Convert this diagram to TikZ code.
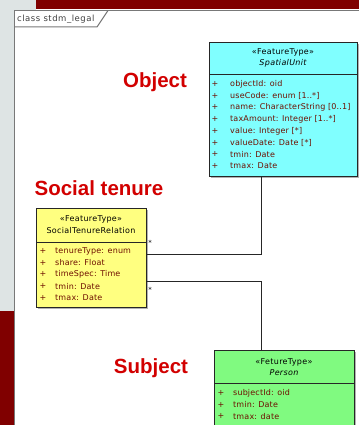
\documentclass[tikz,border=0pt]{standalone}
\usepackage{fontspec}
\setmainfont{DejaVu Sans}
\newfontfamily\titlefont{Liberation Sans}
\usetikzlibrary{shadows}
\definecolor{bgred}{RGB}{128,0,0}
\definecolor{lightbg}{RGB}{222,228,228}
\definecolor{framegray}{RGB}{120,120,120}
\definecolor{titlered}{RGB}{210,0,0}
\definecolor{attrred}{RGB}{110,15,0}
\definecolor{sucyan}{RGB}{128,255,255}
\definecolor{stryellow}{RGB}{255,255,128}
\definecolor{pergreen}{RGB}{128,250,128}
\begin{document}
\begin{tikzpicture}[x=1pt,y=-1pt,
  umlbox/.style={draw=black!85, line width=0.8pt, anchor=north west, inner sep=0pt,
    drop shadow={shadow xshift=2pt, shadow yshift=-2pt, fill=black!30, opacity=1}},
  hdr/.style={font=\fontsize{8}{9}\selectfont\addfontfeature{LetterSpace=4}, text=black, inner sep=0pt},
  attr/.style={font=\fontsize{8}{9}\selectfont\addfontfeature{LetterSpace=2}, text=attrred, anchor=west, inner sep=0pt},
  plussign/.style={font=\fontsize{8}{9}\selectfont, text=attrred, inner sep=0pt},
  bigtitle/.style={font=\titlefont\bfseries\fontsize{20.5}{24}\selectfont, text=titlered, inner sep=0pt},
  conn/.style={draw=black!85, line width=0.8pt},
  mult/.style={font=\fontsize{7}{8}\selectfont, inner sep=0pt},
  divider/.style={draw=black!85, line width=0.8pt}]
\useasboundingbox (0,0) rectangle (359,425);
% background
\fill[white] (0,0) rectangle (359,425);
\fill[lightbg] (0,0) rectangle (36,10);
\fill[lightbg] (0,0) rectangle (14,311);
\fill[bgred] (0,311) rectangle (14,425);
\fill[bgred] (36,0) rectangle (359,9);
% frame
\draw[framegray, line width=1pt] (359,10.5) -- (14.5,10.5) -- (14.5,425);
\draw[framegray, line width=1pt] (14.5,27) -- (97,27) -- (108,10.5);
\node[font=\fontsize{8.5}{10}\selectfont\addfontfeature{LetterSpace=6}, text=black!75, anchor=west, inner sep=0pt] (tab) at (17,19) {class stdm\_legal};
% titles
\node[bigtitle] (tobj) at (155,82) {Object};
\node[bigtitle] (tsoc) at (99,188) {Social tenure};
\node[bigtitle] (tsub) at (151,368) {Subject};
% SpatialUnit
\node[umlbox, fill=sucyan, minimum width=148pt, minimum height=134pt] (su) at (209,42) {};
\draw[divider] (su.west |- 0,74) -- (su.east |- 0,74);
\node[hdr] (suh1) at (283,52) {«FeatureType»};
\node[hdr, font=\fontsize{8}{9}\selectfont\itshape\addfontfeature{LetterSpace=4}] (suh2) at (283,63) {SpatialUnit};
\foreach \t [count=\i from 0] in {objectId: oid, useCode: enum [1..*], name: CharacterString [0..1], taxAmount: Integer [1..*], value: Integer [*], valueDate: Date [*], tmin: Date, tmax: Date}{
  \node[plussign] (sup\i) at (215,84+11.7*\i) {+};
  \node[attr] (sua\i) at (230,84+11.7*\i) {\t};
}
% SocialTenureRelation
\node[umlbox, fill=stryellow, minimum width=110pt, minimum height=99pt] (str) at (36,208) {};
\draw[divider] (str.west |- 0,242) -- (str.east |- 0,242);
\node[hdr] (strh1) at (91,219) {«FeatureType»};
\node[hdr] (strh2) at (91,231) {SocialTenureRelation};
\foreach \t [count=\i from 0] in {tenureType: enum, share: Float, timeSpec: Time, tmin: Date, tmax: Date}{
  \node[plussign] (strp\i) at (43,251+11.7*\i) {+};
  \node[attr] (stra\i) at (55,251+11.7*\i) {\t};
}
% Person
\node[umlbox, fill=pergreen, minimum width=140pt, minimum height=100pt] (per) at (214,350) {};
\draw[divider] (per.west |- 0,383) -- (per.east |- 0,383);
\node[hdr] (perh1) at (284,362) {«FetureType»};
\node[hdr, font=\fontsize{8}{9}\selectfont\itshape\addfontfeature{LetterSpace=4}] (perh2) at (284,373) {Person};
\foreach \t [count=\i from 0] in {subjectId: oid, tmin: Date, tmax: date}{
  \node[plussign] (perp\i) at (221,393+11.7*\i) {+};
  \node[attr] (pera\i) at (233,393+11.7*\i) {\t};
}
% connectors
\draw[conn] (su.south -| 261,0) |- (str.east |- 0,254);
\draw[conn] (str.east |- 0,281) -| (per.north -| 261,0);
\node[mult] (m1) at (150,243) {*};
\node[mult] (m2) at (150,290) {*};
\end{tikzpicture}
\end{document}
